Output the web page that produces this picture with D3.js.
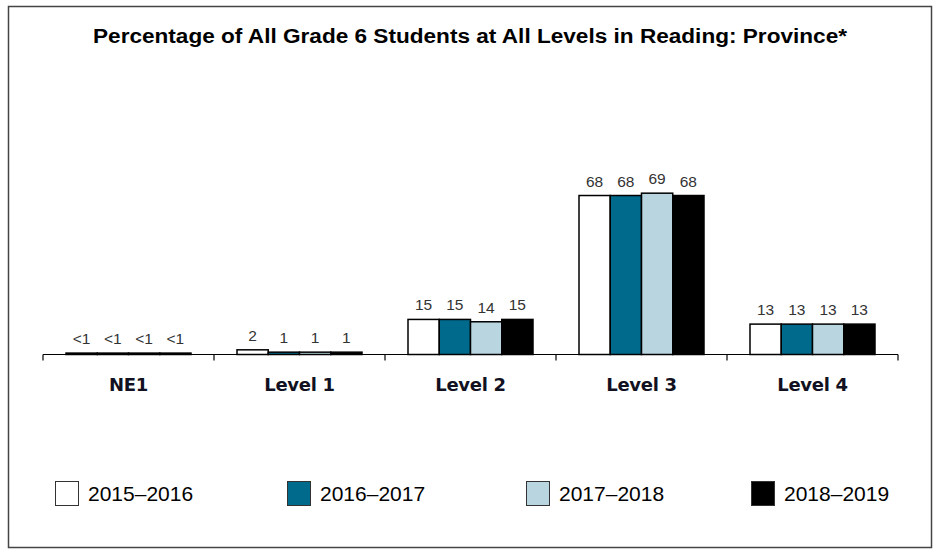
<!DOCTYPE html>
<html>
<head>
<meta charset="utf-8">
<script src="https://cdn.jsdelivr.net/npm/d3@7/dist/d3.min.js"></script>
<style>
  html, body { margin: 0; padding: 0; background: #fff; }
  svg { display: block; }
</style>
</head>
<body>
<svg id="chart" width="937" height="550"></svg>
<script>
// Achievement levels along the x axis
const categories = ["NE1", "Level 1", "Level 2", "Level 3", "Level 4"];
// School years shown in each group
const years = ["2015\u20132016", "2016\u20132017", "2017\u20132018", "2018\u20132019"];
// Percentage of students per level, one array per school year
const values2015 = [0.6, 2, 15, 68, 13];
const values2016 = [0.6, 1, 15, 68, 13];
const values2017 = [0.6, 1, 14, 69, 13];
const values2018 = [0.6, 1, 15, 68, 13];
// Printed value labels (values below 1 are shown as "<1")
const labels2015 = ["<1", "2", "15", "68", "13"];
const labels2016 = ["<1", "1", "15", "68", "13"];
const labels2017 = ["<1", "1", "14", "69", "13"];
const labels2018 = ["<1", "1", "15", "68", "13"];
const colors = ["#ffffff", "#006a8c", "#b8d5e0", "#000000"];

const seriesValues = [values2015, values2016, values2017, values2018];
const seriesLabels = [labels2015, labels2016, labels2017, labels2018];

const svg = d3.select("#chart");

// outer frame
svg.append("rect")
  .attr("x", 8.5).attr("y", 6.5)
  .attr("width", 923).attr("height", 541)
  .attr("fill", "#fff").attr("stroke", "#444").attr("stroke-width", 1.5);

// title
svg.append("text")
  .attr("x", 470).attr("y", 43)
  .attr("text-anchor", "middle")
  .attr("font-family", "Liberation Sans, Arial, sans-serif")
  .attr("font-weight", "bold")
  .attr("font-size", 19.5)
  .attr("textLength", 754)
  .attr("lengthAdjust", "spacingAndGlyphs")
  .attr("fill", "#000")
  .text("Percentage of All Grade 6 Students at All Levels in Reading: Province*");

const baseY = 354.5;
const x0 = d3.scaleBand().domain(categories).range([43, 898]).paddingInner(0).paddingOuter(0);
const x1 = d3.scaleBand().domain(d3.range(years.length)).range([0, 125]);
const y = d3.scaleLinear().domain([0, 100]).range([baseY, baseY - 233.8]);

const groupOffset = (x0.bandwidth() - 125) / 2;

const groups = svg.append("g").selectAll("g")
  .data(categories)
  .join("g")
  .attr("transform", d => `translate(${x0(d) + groupOffset},0)`);

groups.each(function(cat, ci) {
  const g = d3.select(this);
  const rows = years.map((yr, si) => ({ si, v: seriesValues[si][ci], label: seriesLabels[si][ci] }));
  g.selectAll("rect")
    .data(rows)
    .join("rect")
    .attr("x", d => x1(d.si))
    .attr("y", d => y(d.v))
    .attr("width", x1.bandwidth())
    .attr("height", d => baseY - y(d.v))
    .attr("fill", d => colors[d.si])
    .attr("stroke", "#000")
    .attr("stroke-width", 1.5);
  g.selectAll("text")
    .data(rows)
    .join("text")
    .attr("x", d => x1(d.si) + x1.bandwidth() / 2)
    .attr("y", d => y(d.v) - 9)
    .attr("text-anchor", "middle")
    .attr("font-family", "Liberation Sans, Arial, sans-serif")
    .attr("font-size", 15.5)
    .attr("fill", "#333")
    .text(d => d.label);
});

// x axis with boundary ticks between categories
const axis = svg.append("g");
axis.append("line")
  .attr("x1", 43).attr("x2", 898)
  .attr("y1", baseY).attr("y2", baseY)
  .attr("stroke", "#000").attr("stroke-width", 1.2);
const boundaries = categories.map(c => x0(c)).concat([x0.range()[1]]);
axis.selectAll("line.tick")
  .data(boundaries)
  .join("line")
  .attr("class", "tick")
  .attr("x1", d => d).attr("x2", d => d)
  .attr("y1", baseY).attr("y2", baseY + 6)
  .attr("stroke", "#000").attr("stroke-width", 1.2);
axis.selectAll("text")
  .data(categories)
  .join("text")
  .attr("x", d => x0(d) + x0.bandwidth() / 2)
  .attr("y", 391)
  .attr("text-anchor", "middle")
  .attr("font-family", "DejaVu Sans, sans-serif")
  .attr("font-weight", "bold")
  .attr("font-size", 18)
  .attr("letter-spacing", -0.3)
  .attr("fill", "#111122")
  .text(d => d);

// legend
const legendX = [55, 287, 526, 751];
const legend = svg.append("g").selectAll("g")
  .data(years)
  .join("g")
  .attr("transform", (d, i) => `translate(${legendX[i]},481)`);
legend.append("rect")
  .attr("x", 0.5).attr("y", 0.5)
  .attr("width", 23).attr("height", 24)
  .attr("fill", (d, i) => colors[i])
  .attr("stroke", "#333").attr("stroke-width", 1);
legend.append("text")
  .attr("x", 33).attr("y", 20)
  .attr("font-family", "Liberation Sans, Arial, sans-serif")
  .attr("font-size", 21)
  .attr("fill", "#000")
  .text(d => d);
</script>
</body>
</html>
